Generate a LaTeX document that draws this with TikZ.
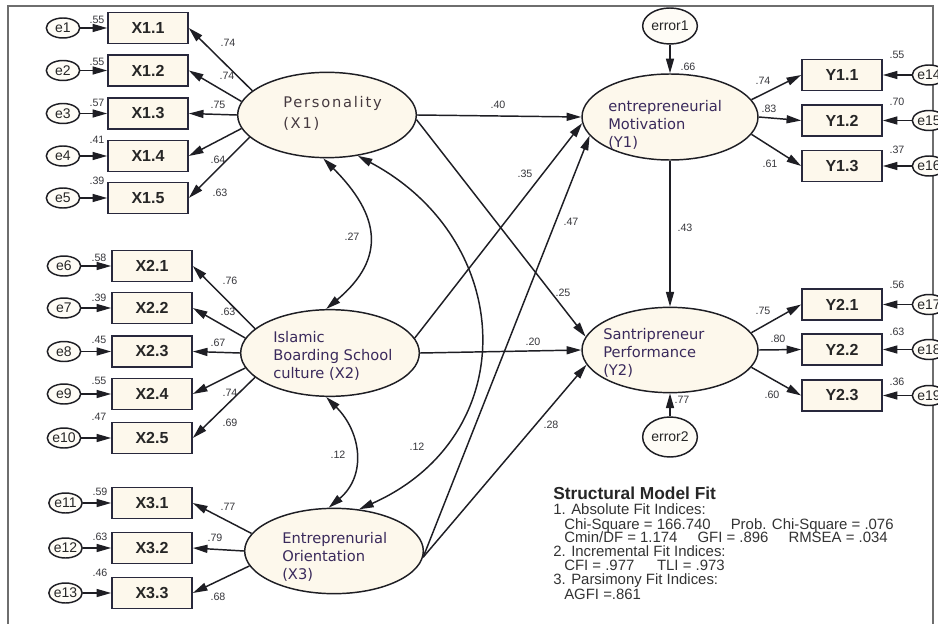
\documentclass[tikz,border=0pt]{standalone}
\usepackage{fontspec}
\setmainfont{Liberation Sans}
\newfontfamily\dejavu{DejaVu Sans}
\usetikzlibrary{arrows.meta,shapes.geometric}
\definecolor{cream}{RGB}{253,248,236}
\definecolor{ecream}{RGB}{254,252,246}
\definecolor{linec}{RGB}{30,30,36}
\definecolor{boxc}{RGB}{40,40,60}
\definecolor{numc}{RGB}{55,55,60}
\definecolor{txtc}{RGB}{58,42,92}
\definecolor{ptxt}{RGB}{70,58,64}
\definecolor{framec}{RGB}{110,110,110}
\begin{document}
\begin{tikzpicture}[x=0.75pt,y=-0.75pt,
  >={Triangle[length=11pt,width=6pt]},
  ind/.style={draw=boxc,line width=1.2pt,fill=cream,minimum width=60pt,minimum height=23.5pt,inner sep=0pt,font=\fontsize{12}{14}\selectfont\bfseries,text=black!85},
  lat/.style={ellipse,draw=linec,line width=1.1pt,fill=cream,minimum width=134pt,minimum height=64pt,inner sep=0pt},
  lattext/.style={font=\dejavu\fontsize{11}{13.5}\selectfont,text=txtc,align=left,anchor=west,inner sep=0pt},
  err/.style={ellipse,draw=linec,line width=1.1pt,fill=ecream,minimum width=25pt,minimum height=15pt,inner sep=0pt,font=\fontsize{10.5}{12}\selectfont,text=black!85},
  res/.style={ellipse,draw=linec,line width=1.1pt,fill=ecream,minimum width=41pt,minimum height=27pt,inner sep=0pt,font=\fontsize{10.5}{12}\selectfont,text=black!85},
  num/.style={font=\fontsize{8}{9}\selectfont,text=numc,inner sep=0pt},
  arr/.style={->,draw=linec,line width=1.1pt},
  cov/.style={<->,draw=linec,line width=1.1pt},
  fitline/.style={anchor=base west,inner sep=0pt,font=\fontsize{11.2}{12}\selectfont,text=black!80}
]
\useasboundingbox (0,0) rectangle (938,624);
\fill[white] (0,0) rectangle (938,624);
\draw[framec,line width=1pt] (8,624) -- (8,6) -- (933,6) -- (933,624);

% indicators X1
\foreach \n/\y in {1/28,2/70.5,3/113.5,4/156,5/198}{
  \node[ind] (X1\n) at (148,\y) {X1.\n};
  \node[err] (e\n) at (63,\y) {e\n};
  \draw[arr] (e\n) -- (X1\n);
}
\foreach \n/\y/\m in {1/266/6,2/308/7,3/351.5/8,4/394/9,5/438/10}{
  \node[ind] (X2\n) at (152,\y) {X2.\n};
  \node[err] (e\m) at (64,\y) {e\m};
  \draw[arr] (e\m) -- (X2\n);
}
\foreach \n/\y/\m in {1/503/11,2/548/12,3/593/13}{
  \node[ind] (X3\n) at (152,\y) {X3.\n};
  \node[err] (e\m) at (65.5,\y) {e\m};
  \draw[arr] (e\m) -- (X3\n);
}
\foreach \n/\y/\m in {1/75/14,2/120.5/15,3/166/16}{
  \node[ind] (Y1\n) at (842,\y) {Y1.\n};
  \node[err] (e\m) at (929,\y) {e\m};
  \draw[arr] (e\m) -- (Y1\n);
}
\foreach \n/\y/\m in {1/304.5/17,2/349.5/18,3/395.5/19}{
  \node[ind] (Y2\n) at (842,\y) {Y2.\n};
  \node[err] (e\m) at (929,\y) {e\m};
  \draw[arr] (e\m) -- (Y2\n);
}

% latent variables
\node[lat] (P) at (327,115) {};
\node[lat,minimum height=65pt] (B) at (330,353) {};
\node[lat] (O) at (334,551) {};
\node[lat,minimum width=132pt,minimum height=64.5pt] (M) at (670,117) {};
\node[lat,minimum width=132pt] (S) at (670,350) {};

\node[lattext,text=ptxt,font=\dejavu\fontsize{11}{15.75}\selectfont\addfontfeatures{LetterSpace=12}] (Pt) at (283,113) {Personality\\(X1)};
\node[lattext] (Bt) at (273,356) {Islamic\\Boarding School\\culture (X2)};
\node[lattext] (Ot) at (282,557) {Entreprenurial\\Orientation\\(X3)};
\node[lattext] (Mt) at (608,125) {entrepreneurial\\Motivation\\(Y1)};
\node[lattext] (St) at (603,353) {Santripreneur\\Performance\\(Y2)};

% residuals
\node[res] (err1) at (670,26) {error1};
\node[res,minimum height=30pt] (err2) at (670,437) {error2};
\draw[arr] (err1) -- (M);
\draw[arr] (err2) -- (S);
\draw[arr] (M) -- (S);

% loadings
\draw[arr] (P.162) -- (X11.east);
\draw[arr] (P.171) -- (X12.east);
\draw[arr] (P.180) -- (X13.east);
\draw[arr] (P.189) -- (X14.east);
\draw[arr] (P.196) -- (X15.east);
\draw[arr] (B.162) -- (X21.east);
\draw[arr] (B.170) -- (X22.east);
\draw[arr] (B.180) -- (X23.east);
\draw[arr] (B.190) -- (X24.east);
\draw[arr] (B.198) -- (X25.east);
\draw[arr] (O.168) -- (X31.east);
\draw[arr] (O.180) -- (X32.east);
\draw[arr] (O.190) -- (X33.east);
\draw[arr] (M.12) -- (Y11.west);
\draw[arr] (M.0) -- (Y12.west);
\draw[arr] (M.-12) -- (Y13.west);
\draw[arr] (S.12) -- (Y21.west);
\draw[arr] (S.0) -- (Y22.west);
\draw[arr] (S.-12) -- (Y23.west);

% structural paths
\draw[arr] (P.east) -- (M.west);
\draw[arr] (P.-3) -- (S.171);
\draw[arr] (B.10) -- (M.184);
\draw[arr] (B.east) -- (S.west);
\draw[arr] (O.-4) -- (M.193);
\draw[arr] (O.-4) -- (S.190);

% covariances
\draw[cov] (P.265) to[out=-45,in=40,looseness=1.35] (B.95);
\draw[cov] (B.265) to[out=-45,in=40,looseness=1.15] (O.97);
\draw[cov] (P.307) to[out=-28,in=24,looseness=1.3] (O.59);

% numbers
\foreach \t/\x/\y [count=\i] in {
 .55/97/20, .55/97/62, .57/97/103, .41/97/140, .39/97/181,
 .58/99/258, .39/99/298, .45/99/340, .55/99/381, .47/99/417,
 .59/100/492, .63/100/537, .46/100/573,
 .74/228/43, .74/227/76, .75/218/105, .64/218/160, .63/220/193,
 .76/230/281, .63/228/312, .67/218/343, .74/230/393, .69/230/423,
 .77/228/507, .79/215/538, .68/218/597,
 .40/498/105, .35/525/174, .47/571/222, .25/563/293, .20/533/342, .28/551/425,
 .27/352/237, .12/338/455, .12/417/447,
 .66/688/67, .43/685/228, .77/682/400,
 .74/763/81, .83/769/109, .61/770/164, .75/763/311, .80/778/339, .60/772/395,
 .55/897/55, .70/897/102, .37/897/150, .56/897/285, .63/897/332, .36/897/382}{
  \node[num] (lab\i) at (\x,\y) {\t};
}

% fit box
\node[anchor=base west,inner sep=0pt,font=\fontsize{13}{14}\selectfont\bfseries,text=black!85] (fittitle) at (553,499) {Structural Model Fit};
\node[fitline] (fit1) at (553,514) {1. Absolute Fit Indices:};
\node[fitline] (fit2) at (564,529) {Chi-Square = 166.740\hspace{15pt}Prob. Chi-Square = .076};
\node[fitline] (fit3) at (564,542) {Cmin/DF = 1.174\hspace{15pt}GFI = .896\hspace{15pt}RMSEA = .034};
\node[fitline] (fit4) at (553,556) {2. Incremental Fit Indices:};
\node[fitline] (fit5) at (564,570) {CFI = .977\hspace{17pt}TLI = .973};
\node[fitline] (fit6) at (553,584) {3. Parsimony Fit Indices:};
\node[fitline] (fit7) at (564,599) {AGFI =.861};
\end{tikzpicture}
\end{document}
